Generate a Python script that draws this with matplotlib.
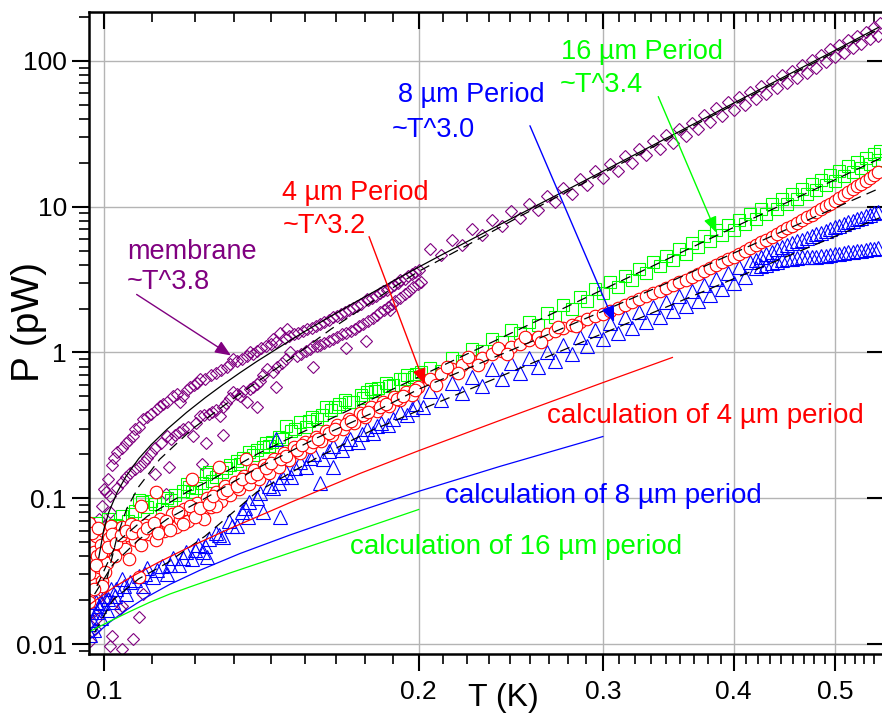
import numpy as np
import matplotlib
matplotlib.use('Agg')
import matplotlib.pyplot as plt
from matplotlib import ticker, lines

plt.rcParams['font.family'] = ['Liberation Sans', 'DejaVu Sans']

# ---------------- data (T in K, P in pW) ----------------
# membrane, low temperature part (two branches + scatter)
membrane_low = [
    (0.0974, 0.043), (0.0976, 0.0166), (0.0980, 0.0127), (0.0983, 0.0149), (0.0989, 0.072),
    (0.0991, 0.028), (0.0996, 0.088), (0.0998, 0.0365), (0.1000, 0.115), (0.1007, 0.052),
    (0.1010, 0.0203), (0.1013, 0.080), (0.1013, 0.0097), (0.1018, 0.0114), (0.1036, 0.0174),
    (0.1040, 0.0182), (0.1040, 0.0093), (0.1066, 0.0108), (0.1080, 0.0153), (0.1090, 0.0220),
    (0.0970, 0.0105), (0.0985, 0.0205), (0.1003, 0.064), (0.0978, 0.031),
    # upper branch
    (0.1010, 0.135), (0.1018, 0.17), (0.1029, 0.207), (0.1050, 0.24), (0.1066, 0.266),
    (0.1070, 0.297), (0.1090, 0.348), (0.1110, 0.38), (0.1124, 0.407), (0.1140, 0.44),
    (0.1164, 0.50), (0.1182, 0.455), (0.1200, 0.55), (0.1220, 0.60), (0.1235, 0.653),
    (0.1250, 0.66), (0.1280, 0.72), (0.1311, 0.80), (0.1329, 0.896), (0.1340, 0.87),
    (0.1370, 0.95), (0.1379, 1.0), (0.1400, 1.03), (0.1430, 1.10), (0.1451, 1.23),
    (0.1460, 1.18), (0.1474, 1.37), (0.1490, 1.26), (0.1497, 1.44), (0.1520, 1.33),
    (0.1550, 1.40), (0.1580, 1.48), (0.1610, 1.57), (0.1640, 1.67), (0.1656, 1.76),
    (0.1670, 1.78), (0.1700, 1.90), (0.1730, 2.02), (0.1760, 2.16), (0.1783, 2.31),
    (0.1790, 2.30), (0.1820, 2.45), (0.1850, 2.62), (0.1880, 2.80), (0.1910, 3.00),
    (0.1921, 3.16), (0.1940, 3.20), (0.1970, 3.45), (0.2000, 3.70),
    (0.1005, 0.11), (0.1022, 0.19), (0.1040, 0.22), (0.1058, 0.25), (0.1080, 0.31),
    (0.1100, 0.36), (0.1132, 0.43), (0.1150, 0.46), (0.1175, 0.52), (0.1190, 0.50),
    (0.1210, 0.58), (0.1228, 0.62), (0.1265, 0.70), (0.1295, 0.76), (0.1320, 0.83),
    (0.1355, 0.90), (0.1390, 0.98), (0.1415, 1.07), (0.1445, 1.15), (0.1505, 1.30),
    (0.1535, 1.36), (0.1565, 1.44), (0.1595, 1.52), (0.1625, 1.62), (0.1685, 1.84),
    (0.1715, 1.96), (0.1745, 2.09), (0.1805, 2.38), (0.1835, 2.54), (0.1865, 2.70),
    (0.1895, 2.90), (0.1955, 3.32), (0.1985, 3.58),
    # lower branch
    (0.1013, 0.103), (0.1040, 0.13), (0.1060, 0.15), (0.1082, 0.166), (0.1100, 0.19),
    (0.1120, 0.22), (0.1149, 0.266), (0.1170, 0.27), (0.1190, 0.30), (0.1216, 0.266),
    (0.1235, 0.365), (0.1260, 0.38), (0.1280, 0.40), (0.1291, 0.365), (0.1310, 0.45),
    (0.1329, 0.532), (0.1350, 0.50), (0.1372, 0.455), (0.1390, 0.58), (0.1410, 0.64),
    (0.1432, 0.765), (0.1451, 0.73), (0.1480, 0.85), (0.1506, 1.0), (0.1530, 0.95),
    (0.1560, 1.02), (0.1585, 1.10), (0.1610, 1.12), (0.1640, 1.20), (0.1670, 1.28),
    (0.1706, 1.37), (0.1740, 1.45), (0.1770, 1.57), (0.1810, 1.72), (0.1838, 1.88),
    (0.1870, 2.05), (0.1900, 2.25), (0.1940, 2.50), (0.1977, 2.83), (0.2010, 3.05),
    (0.1030, 0.118), (0.1050, 0.14), (0.1072, 0.158), (0.1092, 0.178), (0.1110, 0.205),
    (0.1135, 0.24), (0.1160, 0.255), (0.1180, 0.285), (0.1205, 0.31), (0.1225, 0.33),
    (0.1248, 0.37), (0.1270, 0.39), (0.1300, 0.42), (0.1320, 0.49), (0.1340, 0.52),
    (0.1360, 0.54), (0.1380, 0.56), (0.1400, 0.61), (0.1420, 0.70), (0.1465, 0.80),
    (0.1495, 0.90), (0.1545, 0.98), (0.1575, 1.05), (0.1600, 1.10), (0.1625, 1.16),
    (0.1655, 1.24), (0.1690, 1.33), (0.1725, 1.41), (0.1755, 1.52), (0.1790, 1.64),
    (0.1825, 1.80), (0.1855, 1.96), (0.1885, 2.15), (0.1920, 2.38), (0.1960, 2.65),
    (0.1995, 2.95),
    # scatter
    (0.1300, 0.27), (0.1240, 0.171), (0.1400, 0.42), (0.1460, 0.58), (0.1585, 0.80),
    (0.1706, 1.08), (0.1780, 1.19), (0.1876, 1.97), (0.1252, 0.24), (0.1120, 0.146),
    (0.1154, 0.163), (0.1146, 0.107),
]
# membrane, dense band above 0.2 K (upper and lower edge of the band)
membrane_hi_T_a = [0.205, 0.215, 0.225, 0.235, 0.245, 0.255, 0.265, 0.275, 0.285, 0.295,
                   0.305, 0.315, 0.325, 0.335, 0.345, 0.355, 0.365, 0.375, 0.385, 0.395,
                   0.405, 0.415, 0.425, 0.435, 0.445, 0.455, 0.465, 0.475, 0.485, 0.495,
                   0.505, 0.515, 0.525, 0.535, 0.545, 0.552]
membrane_hi_P_a = [5.1, 5.9, 7.0, 8.1, 9.3, 10.5, 11.9, 13.5, 15.5, 17.5,
                   19.7, 22.2, 25.0, 28.1, 31.0, 33.9, 37.6, 42.4, 47.2, 51.9,
                   56.7, 61.5, 66.8, 73.1, 79.5, 85.9, 93.3, 102, 110, 120,
                   129, 139, 148, 159, 172, 181]
membrane_hi_T_b = [0.21, 0.22, 0.23, 0.24, 0.25, 0.26, 0.27, 0.28, 0.29, 0.30,
                   0.31, 0.32, 0.33, 0.34, 0.35, 0.36, 0.37, 0.38, 0.39, 0.40,
                   0.41, 0.42, 0.43, 0.44, 0.45, 0.46, 0.47, 0.48, 0.49, 0.50,
                   0.51, 0.52, 0.53, 0.54, 0.55]
membrane_hi_P_b = [4.66, 5.47, 6.37, 7.36, 8.4, 9.48, 10.7, 12.3, 14.0, 15.8,
                   17.7, 20.0, 22.5, 25.0, 27.5, 30.3, 33.9, 38.0, 42.0, 46.1,
                   50.1, 54.4, 59.3, 64.7, 70.1, 76.0, 82.7, 89.9, 97.6, 105.7,
                   113.8, 121.9, 130.4, 140.3, 149]

# 16 um period
green_low = [
    (0.0970, 0.052), (0.0976, 0.058), (0.0980, 0.044), (0.0983, 0.068), (0.0988, 0.047),
    (0.0995, 0.060), (0.1005, 0.055), (0.1010, 0.072), (0.1011, 0.061), (0.1025, 0.066),
    (0.1040, 0.075), (0.1055, 0.070), (0.1070, 0.082), (0.1080, 0.098), (0.1087, 0.094),
    (0.1100, 0.087), (0.1120, 0.092), (0.1136, 0.084), (0.1150, 0.100), (0.1170, 0.106),
    (0.1190, 0.112), (0.1206, 0.119), (0.1215, 0.110), (0.1240, 0.128), (0.1252, 0.146),
    (0.1260, 0.151), (0.1280, 0.140), (0.1297, 0.151), (0.1320, 0.168), (0.1340, 0.180),
    (0.1360, 0.190), (0.1376, 0.207), (0.1400, 0.215), (0.1420, 0.225), (0.1438, 0.227),
    (0.1448, 0.242), (0.1470, 0.265), (0.1493, 0.311), (0.1510, 0.29), (0.1540, 0.331),
    (0.1560, 0.31), (0.1580, 0.36), (0.1600, 0.35), (0.1630, 0.42), (0.1650, 0.40),
    (0.1680, 0.44), (0.1700, 0.47), (0.1730, 0.46), (0.1760, 0.51), (0.1783, 0.532),
    (0.1800, 0.56), (0.1830, 0.57), (0.1860, 0.62), (0.1890, 0.60), (0.1921, 0.653),
    (0.1950, 0.70), (0.1980, 0.68), (0.2010, 0.74),
    (0.0990, 0.054), (0.1030, 0.064), (0.1065, 0.078), (0.1110, 0.096), (0.1160, 0.098),
    (0.1200, 0.125), (0.1225, 0.118), (0.1270, 0.132), (0.1310, 0.160), (0.1350, 0.172),
    (0.1390, 0.198), (0.1430, 0.238), (0.1480, 0.255), (0.1525, 0.300), (0.1570, 0.34),
    (0.1615, 0.37), (0.1665, 0.42), (0.1715, 0.46), (0.1770, 0.49), (0.1815, 0.54),
    (0.1875, 0.59), (0.1935, 0.66), (0.1990, 0.71),
]
green_hi_T_a = [0.205, 0.215, 0.225, 0.235, 0.245, 0.255, 0.265, 0.275, 0.285, 0.295,
                0.305, 0.315, 0.325, 0.335, 0.345, 0.355, 0.365, 0.375, 0.385, 0.395,
                0.405, 0.415, 0.425, 0.435, 0.445, 0.455, 0.465, 0.475, 0.485, 0.495,
                0.505, 0.515, 0.525, 0.535, 0.545, 0.552]
green_hi_P_a = [0.78, 0.91, 1.06, 1.24, 1.43, 1.63, 1.86, 2.12, 2.41, 2.71,
                3.02, 3.36, 3.76, 4.19, 4.61, 5.09, 5.62, 6.25, 6.89, 7.53,
                8.16, 8.9, 9.65, 10.5, 11.3, 12.3, 13.3, 14.2, 15.3, 16.4,
                17.6, 18.9, 20.1, 21.5, 22.9, 24.0]
green_hi_T_b = [0.21, 0.22, 0.23, 0.24, 0.25, 0.26, 0.27, 0.28, 0.29, 0.30,
                0.31, 0.32, 0.33, 0.34, 0.35, 0.36, 0.37, 0.38, 0.39, 0.40,
                0.41, 0.42, 0.43, 0.44, 0.45, 0.46, 0.47, 0.48, 0.49, 0.50,
                0.51, 0.52, 0.53, 0.54, 0.55]
green_hi_P_b = [0.75, 0.87, 1.02, 1.18, 1.36, 1.54, 1.76, 2.0, 2.27, 2.54,
                2.83, 3.15, 3.52, 3.90, 4.30, 4.74, 5.25, 5.82, 6.39, 6.95,
                7.56, 8.22, 8.92, 9.67, 10.5, 11.3, 12.2, 13.1, 14.0, 15.1,
                16.2, 17.3, 18.5, 19.7, 21.0]

# 8 um period
blue_low = [
    (0.0968, 0.0137), (0.0970, 0.0115), (0.0973, 0.0165), (0.0978, 0.0125), (0.0982, 0.0195),
    (0.0989, 0.0182), (0.0993, 0.0150), (0.1000, 0.0215), (0.1007, 0.0170), (0.1015, 0.0240),
    (0.1020, 0.0195), (0.1027, 0.0238), (0.1040, 0.0280), (0.1050, 0.0220), (0.1060, 0.0265),
    (0.1080, 0.0293), (0.1090, 0.0250), (0.1100, 0.0330), (0.1115, 0.0290), (0.1136, 0.0342),
    (0.1150, 0.0300), (0.1165, 0.0390), (0.1180, 0.0350), (0.1198, 0.0426), (0.1215, 0.0380),
    (0.1230, 0.0480), (0.1245, 0.0430), (0.1254, 0.0395), (0.1260, 0.0524), (0.1280, 0.0580),
    (0.1300, 0.0540), (0.1317, 0.0696), (0.1340, 0.0650), (0.1355, 0.0800), (0.1373, 0.0739),
    (0.1376, 0.094), (0.1400, 0.100), (0.1420, 0.0806), (0.1438, 0.121), (0.1460, 0.254),
    (0.1474, 0.074), (0.1470, 0.128), (0.1493, 0.151), (0.1510, 0.140), (0.1540, 0.177),
    (0.1560, 0.165), (0.1590, 0.200), (0.1610, 0.128), (0.1620, 0.185), (0.1656, 0.163),
    (0.1656, 0.227), (0.1690, 0.215), (0.1720, 0.255), (0.1750, 0.245), (0.1783, 0.297),
    (0.1810, 0.280), (0.1840, 0.330), (0.1870, 0.320), (0.1921, 0.388), (0.1950, 0.370),
    (0.1990, 0.440), (0.2020, 0.420),
    (0.0975, 0.0145), (0.0986, 0.0165), (0.0997, 0.0190), (0.1010, 0.0205), (0.1024, 0.0215),
    (0.1045, 0.0250), (0.1070, 0.0275), (0.1095, 0.0300), (0.1125, 0.0320), (0.1158, 0.0350),
    (0.1190, 0.0390), (0.1222, 0.0440), (0.1250, 0.0470), (0.1290, 0.0560), (0.1325, 0.0640),
    (0.1365, 0.0860), (0.1410, 0.1080), (0.1450, 0.1180), (0.1480, 0.1400), (0.1525, 0.1600),
    (0.1575, 0.1900), (0.1640, 0.2100), (0.1705, 0.2400), (0.1765, 0.2750), (0.1825, 0.3150),
    (0.1890, 0.3500), (0.1970, 0.4100),
]
blue_hi_T_a = [0.205, 0.215, 0.225, 0.235, 0.245, 0.255, 0.265, 0.275, 0.285, 0.295,
               0.305, 0.315, 0.325, 0.335, 0.345, 0.355, 0.365, 0.375, 0.385, 0.395,
               0.405, 0.415]
blue_hi_P_a = [0.54, 0.62, 0.68, 0.77, 0.85, 0.92, 1.01, 1.12, 1.27, 1.43,
               1.60, 1.74, 1.89, 2.06, 2.23, 2.44, 2.66, 2.90, 3.19, 3.52,
               3.85, 4.18]
blue_hi_T_b = [0.21, 0.22, 0.23, 0.24, 0.25, 0.26, 0.27, 0.28, 0.29, 0.30,
               0.31, 0.32, 0.33, 0.34, 0.35, 0.36, 0.37, 0.38, 0.39, 0.40, 0.41]
blue_hi_P_b = [0.47, 0.53, 0.59, 0.66, 0.72, 0.79, 0.87, 0.97, 1.10, 1.24,
               1.36, 1.48, 1.61, 1.75, 1.91, 2.09, 2.27, 2.49, 2.74, 3.01, 3.28]
blue_split_T = [0.42, 0.425, 0.43, 0.435, 0.44, 0.445, 0.45, 0.455, 0.46, 0.465,
                0.47, 0.475, 0.48, 0.485, 0.49, 0.495, 0.50, 0.505, 0.51, 0.515,
                0.52, 0.525, 0.53, 0.535, 0.54, 0.545, 0.55]
blue_upper_P = [4.3, 4.5, 4.7, 4.9, 5.1, 5.25, 5.45, 5.6, 5.8, 5.95,
                6.1, 6.3, 6.45, 6.6, 6.8, 7.0, 7.2, 7.4, 7.6, 7.8,
                8.0, 8.2, 8.4, 8.6, 8.8, 9.0, 9.2]
blue_lower_P = [3.8, 3.9, 4.0, 4.1, 4.2, 4.3, 4.35, 4.4, 4.45, 4.5,
                4.5, 4.55, 4.55, 4.6, 4.6, 4.65, 4.7, 4.75, 4.8, 4.85,
                4.9, 4.95, 5.0, 5.05, 5.1, 5.15, 5.2]

# 4 um period
red_low = [
    (0.0968, 0.068), (0.0970, 0.050), (0.0972, 0.036), (0.0975, 0.028), (0.0978, 0.043),
    (0.0980, 0.031), (0.0983, 0.055), (0.0986, 0.040), (0.0990, 0.034), (0.0993, 0.048),
    (0.0997, 0.027), (0.1000, 0.060), (0.1004, 0.044), (0.1008, 0.036), (0.1012, 0.053),
    (0.1016, 0.065), (0.1020, 0.047), (0.1025, 0.040), (0.1030, 0.058), (0.1036, 0.051),
    (0.1042, 0.063), (0.1048, 0.045), (0.1055, 0.056), (0.1062, 0.067), (0.1070, 0.052),
    (0.1078, 0.060), (0.1086, 0.048), (0.1095, 0.066), (0.1104, 0.057), (0.1113, 0.063),
    (0.1122, 0.052), (0.1132, 0.072), (0.1142, 0.060), (0.1152, 0.066), (0.1162, 0.078),
    (0.1172, 0.063), (0.1183, 0.072), (0.1194, 0.085), (0.1205, 0.070), (0.1217, 0.080),
    (0.1229, 0.093), (0.1241, 0.078), (0.1254, 0.100), (0.1267, 0.087), (0.1280, 0.110),
    (0.1293, 0.096), (0.1306, 0.121), (0.1320, 0.105), (0.1334, 0.130), (0.1348, 0.115),
    (0.1362, 0.142), (0.1377, 0.125), (0.1392, 0.155), (0.1407, 0.136), (0.1422, 0.170),
    (0.1438, 0.150), (0.1454, 0.185), (0.1470, 0.165), (0.1487, 0.205), (0.1504, 0.183),
    (0.1521, 0.225), (0.1539, 0.205), (0.1557, 0.245), (0.1575, 0.225), (0.1594, 0.265),
    (0.1613, 0.248), (0.1632, 0.290), (0.1652, 0.272), (0.1672, 0.318), (0.1693, 0.300),
    (0.1714, 0.350), (0.1735, 0.330), (0.1757, 0.385), (0.1779, 0.362), (0.1802, 0.420),
    (0.1825, 0.398), (0.1848, 0.455), (0.1872, 0.432), (0.1896, 0.495), (0.1921, 0.470),
    (0.1946, 0.535), (0.1972, 0.510), (0.1998, 0.580),
    (0.1121, 0.110), (0.1215, 0.135), (0.1289, 0.163), (0.1367, 0.185), (0.1085, 0.088),
    (0.1057, 0.038), (0.1080, 0.029), (0.0996, 0.025), (0.0968, 0.0195), (0.1280, 0.088),
    (0.1246, 0.072),
    (0.0969, 0.030), (0.0974, 0.058), (0.0979, 0.024), (0.0984, 0.035), (0.0988, 0.062),
    (0.0995, 0.042), (0.1002, 0.031), (0.1010, 0.046), (0.1018, 0.057), (0.1028, 0.049),
    (0.1039, 0.056), (0.1051, 0.060), (0.1065, 0.058), (0.1074, 0.064), (0.1090, 0.058),
    (0.1100, 0.062), (0.1118, 0.068), (0.1128, 0.058), (0.1147, 0.070), (0.1158, 0.061),
    (0.1178, 0.080), (0.1190, 0.067), (0.1210, 0.088), (0.1223, 0.074), (0.1235, 0.086),
    (0.1260, 0.092), (0.1273, 0.103), (0.1300, 0.108), (0.1313, 0.113), (0.1341, 0.122),
    (0.1355, 0.135), (0.1384, 0.140), (0.1400, 0.146), (0.1430, 0.160), (0.1446, 0.175),
    (0.1478, 0.185), (0.1495, 0.195), (0.1530, 0.214), (0.1548, 0.232), (0.1585, 0.245),
    (0.1603, 0.256), (0.1642, 0.280), (0.1662, 0.300), (0.1703, 0.325), (0.1724, 0.340),
    (0.1768, 0.372), (0.1790, 0.390), (0.1836, 0.425), (0.1860, 0.445), (0.1908, 0.480),
    (0.1933, 0.500), (0.1985, 0.550),
]
red_hi = [
    (0.205, 0.66), (0.21, 0.71), (0.215, 0.77), (0.22, 0.82), (0.225, 0.87), (0.23, 0.92),
    (0.235, 0.98), (0.24, 1.03), (0.245, 1.09), (0.25, 1.15), (0.255, 1.21), (0.26, 1.27),
    (0.265, 1.33), (0.27, 1.40), (0.275, 1.47), (0.28, 1.55), (0.285, 1.62), (0.29, 1.70),
    (0.295, 1.78), (0.30, 1.85), (0.305, 1.93), (0.31, 2.02), (0.315, 2.12), (0.32, 2.22),
    (0.325, 2.33), (0.33, 2.44), (0.335, 2.55), (0.34, 2.66), (0.345, 2.78), (0.35, 2.90),
    (0.355, 3.02), (0.36, 3.16), (0.365, 3.30), (0.37, 3.45), (0.375, 3.60), (0.38, 3.78),
    (0.385, 3.95), (0.39, 4.15), (0.395, 4.35), (0.40, 4.55), (0.405, 4.75), (0.41, 4.97),
    (0.415, 5.20), (0.42, 5.45), (0.425, 5.70), (0.43, 5.95), (0.435, 6.20), (0.44, 6.50),
    (0.445, 6.80), (0.45, 7.10), (0.455, 7.40), (0.46, 7.75), (0.465, 8.10), (0.47, 8.45),
    (0.475, 8.80), (0.48, 9.20), (0.485, 9.60), (0.49, 10.05), (0.495, 10.5), (0.50, 11.0),
    (0.505, 11.5), (0.51, 12.0), (0.515, 12.6), (0.52, 13.2), (0.525, 13.8), (0.53, 14.4),
    (0.535, 15.0), (0.54, 15.7), (0.545, 16.4), (0.55, 17.2),
    (0.208, 0.60), (0.213, 0.80), (0.218, 0.72), (0.223, 0.93), (0.228, 0.82), (0.238, 1.08),
    (0.243, 0.97), (0.253, 1.28), (0.262, 1.18), (0.272, 1.50), (0.283, 1.52),
]

# black fit curves
fit_membrane_T = [0.0989, 0.100, 0.1011, 0.103, 0.105, 0.108, 0.111, 0.115, 0.120, 0.125,
                  0.130, 0.135, 0.140, 0.147, 0.155, 0.165, 0.176, 0.190, 0.200, 0.210,
                  0.220, 0.240, 0.260, 0.280, 0.300, 0.350, 0.400, 0.450, 0.500, 0.5505]
fit_membrane_P = [0.039, 0.061, 0.080, 0.110, 0.141, 0.187, 0.233, 0.298, 0.388, 0.489,
                  0.602, 0.727, 0.866, 1.08, 1.37, 1.78, 2.32, 3.15, 3.85, 4.64,
                  5.52, 7.64, 10.3, 13.55, 17.5, 31.1, 51.3, 79.7, 118, 170]
fit_membrane2_T = [0.1007, 0.103, 0.1052, 0.108, 0.1131, 0.1216, 0.1329, 0.1432, 0.1516,
                   0.165, 0.1783, 0.190, 0.200, 0.220, 0.250, 0.300, 0.400, 0.5505]
fit_membrane2_P = [0.028, 0.055, 0.085, 0.12, 0.185, 0.30, 0.48, 0.70, 0.93,
                   1.45, 2.1, 2.85, 3.6, 5.2, 8.6, 17.0, 50.0, 165]
fit_green_T = [0.0985, 0.103, 0.11, 0.12, 0.127, 0.14, 0.15, 0.17, 0.2, 0.25,
               0.3, 0.35, 0.4, 0.45, 0.5, 0.552]
fit_green_P = [0.025, 0.05, 0.075, 0.11, 0.135, 0.2, 0.255, 0.39, 0.68, 1.45,
               2.7, 4.56, 7.2, 10.7, 15.3, 21.4]
fit_red_T = [0.098, 0.102, 0.108, 0.115, 0.125, 0.14, 0.16, 0.18, 0.2, 0.25,
             0.3, 0.35, 0.4, 0.45, 0.5, 0.552]
fit_red_P = [0.022, 0.035, 0.052, 0.072, 0.10, 0.16, 0.26, 0.38, 0.56, 1.1,
             1.92, 3.12, 4.8, 7.0, 9.8, 13.4]
fit_blue_T = [0.098, 0.102, 0.108, 0.115, 0.125, 0.14, 0.16, 0.18, 0.2, 0.25,
              0.3, 0.35, 0.4, 0.45, 0.5, 0.552]
fit_blue_P = [0.012, 0.02, 0.028, 0.036, 0.055, 0.11, 0.19, 0.29, 0.40, 0.78,
              1.35, 2.14, 3.2, 4.56, 6.25, 8.4]

# calculations
calc4_T = [0.0968, 0.0991, 0.1024, 0.1071, 0.1131, 0.1208, 0.1320, 0.1505, 0.1758, 0.2004,
           0.2392, 0.2985, 0.3496]
calc4_P = [0.0185, 0.0209, 0.0247, 0.0298, 0.0367, 0.0463, 0.0619, 0.0930, 0.148, 0.213,
           0.342, 0.613, 0.924]
calc8_T = [0.0968, 0.0991, 0.1013, 0.1047, 0.1094, 0.1156, 0.1235, 0.1349, 0.1505, 0.1719,
           0.2004, 0.2392, 0.300]
calc8_P = [0.0107, 0.0123, 0.0141, 0.0168, 0.0206, 0.0256, 0.0320, 0.0417, 0.0558, 0.0777,
           0.112, 0.1654, 0.265]
calc16_T = [0.0970, 0.1013, 0.1059, 0.1106, 0.1156, 0.1208, 0.1320, 0.1505, 0.1719, 0.2000]
calc16_P = [0.0122, 0.0143, 0.0167, 0.0193, 0.0220, 0.0246, 0.0307, 0.0421, 0.0578, 0.0837]

PURPLE = '#800080'
RED = '#ff0000'
BLUE = '#0000ff'
GREEN = '#00ff00'


def xy(pts):
    a = np.array(pts)
    return a[:, 0], a[:, 1]


fig = plt.figure(figsize=(8.82, 7.18), dpi=100)
ax = fig.add_axes([89 / 882, 64 / 718, 795 / 882, 642 / 718])
ax.set_xscale('log')
ax.set_yscale('log')
ax.set_axisbelow(True)
ax.grid(True, which='major', color='#b4b4b4', linewidth=1.0)

mk = dict(linestyle='none', markeredgewidth=0.8)
dia = dict(marker='D', ms=6.5, mec=PURPLE, mfc='none', **mk)
sq = dict(marker='s', ms=8, mec=GREEN, mfc='none', **mk)
tri = dict(marker='^', ms=9.5, mec=BLUE, mfc='none', **mk)
circ = dict(marker='o', ms=9, mec=RED, mfc='white', **mk)

# membrane
t, p = xy(membrane_low)
ax.plot(t, p, **dia)
ax.plot(membrane_hi_T_a, membrane_hi_P_a, **dia)
ax.plot(membrane_hi_T_b, membrane_hi_P_b, **dia)

# 16 um
t, p = xy(green_low)
ax.plot(t, p, **sq)
ax.plot(green_hi_T_a, green_hi_P_a, **sq)
ax.plot(green_hi_T_b, green_hi_P_b, **sq)

# 8 um
t, p = xy(blue_low)
ax.plot(t, p, **tri)
ax.plot(blue_hi_T_a, blue_hi_P_a, **tri)
ax.plot(blue_hi_T_b, blue_hi_P_b, **tri)
ax.plot(blue_split_T, blue_upper_P, **tri)
ax.plot(blue_split_T, blue_lower_P, **tri)

# 4 um
t, p = xy(red_low)
ax.plot(t, p, **circ)
t, p = xy(red_hi)
ax.plot(t, p, **circ)

# fits
dash = (0, (8, 5))
ax.plot(fit_membrane_T, fit_membrane_P, color='black', lw=0.9)
ax.plot(fit_membrane2_T, fit_membrane2_P, color='black', lw=0.9, ls=dash)
ax.plot(fit_green_T, fit_green_P, color='black', lw=0.9, ls=dash)
ax.plot(fit_red_T, fit_red_P, color='black', lw=0.9, ls=dash)
ax.plot(fit_blue_T, fit_blue_P, color='black', lw=0.9, ls=dash)

# calculations
ax.plot(calc4_T, calc4_P, color=RED, lw=0.9)
ax.plot(calc8_T, calc8_P, color=BLUE, lw=0.9)
ax.plot(calc16_T, calc16_P, color=GREEN, lw=0.9)

# labels and arrows
fs = 19.5
ax.text(0.1052, 4.92, 'membrane', color=PURPLE, fontsize=fs, va='center')
ax.text(0.1052, 3.02, '~T^3.8', color=PURPLE, fontsize=fs, va='center')
ax.text(0.1480, 12.5, '4 µm Period', color=RED, fontsize=fs, va='center')
ax.text(0.1482, 7.41, '~T^3.2', color=RED, fontsize=fs, va='center')
ax.text(0.1913, 58.4, '8 µm Period', color=BLUE, fontsize=fs, va='center')
ax.text(0.1885, 33.6, '~T^3.0', color=BLUE, fontsize=fs, va='center')
ax.text(0.2735, 115, '16 µm Period', color=GREEN, fontsize=fs, va='center')
ax.text(0.2729, 68.3, '~T^3.4', color=GREEN, fontsize=fs, va='center')

ax.text(0.2652, 0.365, 'calculation of 4 µm period', color=RED, fontsize=20, va='center')
ax.text(0.2118, 0.1035, 'calculation of 8 µm period', color=BLUE, fontsize=20, va='center')
ax.text(0.1719, 0.0461, 'calculation of 16 µm period', color=GREEN, fontsize=20, va='center')

arrows = [((0.1075, 2.50), (0.1323, 0.954), PURPLE),
          ((0.1793, 6.23), (0.2027, 0.604), RED),
          ((0.2555, 35.9), (0.3075, 1.62), BLUE),
          ((0.3389, 56.9), (0.3851, 6.63), GREEN)]
for start, tip, c in arrows:
    ax.annotate('', xy=tip, xytext=start,
                arrowprops=dict(arrowstyle='-|>,head_length=0.6,head_width=0.25',
                                color=c, lw=1.0, mutation_scale=16,
                                shrinkA=0, shrinkB=0))

# axes styling
xt = [0.1, 0.2, 0.3, 0.4, 0.5]
ax.set_xticks(xt, ['0.1', '0.2', '0.3', '0.4', '0.5'])
minor_x = [b + k * 0.1 / 9 for b in xt for k in range(1, 9)]
minor_x = [m for m in minor_x if m < 0.557]
ax.set_xticks(minor_x, minor=True)
ax.xaxis.set_minor_formatter(ticker.NullFormatter())
ax.set_yticks([0.01, 0.1, 1, 10, 100], ['0.01', '0.1', '1', '10', '100'])
ax.yaxis.set_minor_locator(ticker.LogLocator(base=10, subs=np.arange(2, 10)))
ax.yaxis.set_minor_formatter(ticker.NullFormatter())

ax.tick_params(axis='both', which='major', labelsize=19, width=1.5, length=12)
ax.tick_params(axis='x', which='major', pad=7)
ax.tick_params(axis='y', which='major', pad=4)
ax.tick_params(axis='both', which='minor', width=1.2, length=7)
ax.tick_params(axis='x', which='both', top=True, direction='out')
ax.tick_params(axis='y', which='major', right=True, direction='out')
ax.tick_params(axis='y', which='minor', right=False, direction='out')
for t in ax.xaxis.get_major_ticks() + ax.xaxis.get_minor_ticks():
    t.tick2line.set_marker(lines.TICKDOWN)
for t in ax.yaxis.get_major_ticks():
    t.tick2line.set_marker(lines.TICKLEFT)

for s in ['left', 'bottom', 'top', 'right']:
    ax.spines[s].set_linewidth(1.8)

ax.set_xlim(0.0968, 0.557)
ax.set_ylim(0.00854, 216.5)

ax.set_xlabel('T (K)', fontsize=23)
ax.set_ylabel('P (pW)', fontsize=28)
ax.xaxis.set_label_coords(0.521, -0.045)
ax.yaxis.set_label_coords(-0.053, 0.517)

fig.savefig('out.png', dpi=100)
